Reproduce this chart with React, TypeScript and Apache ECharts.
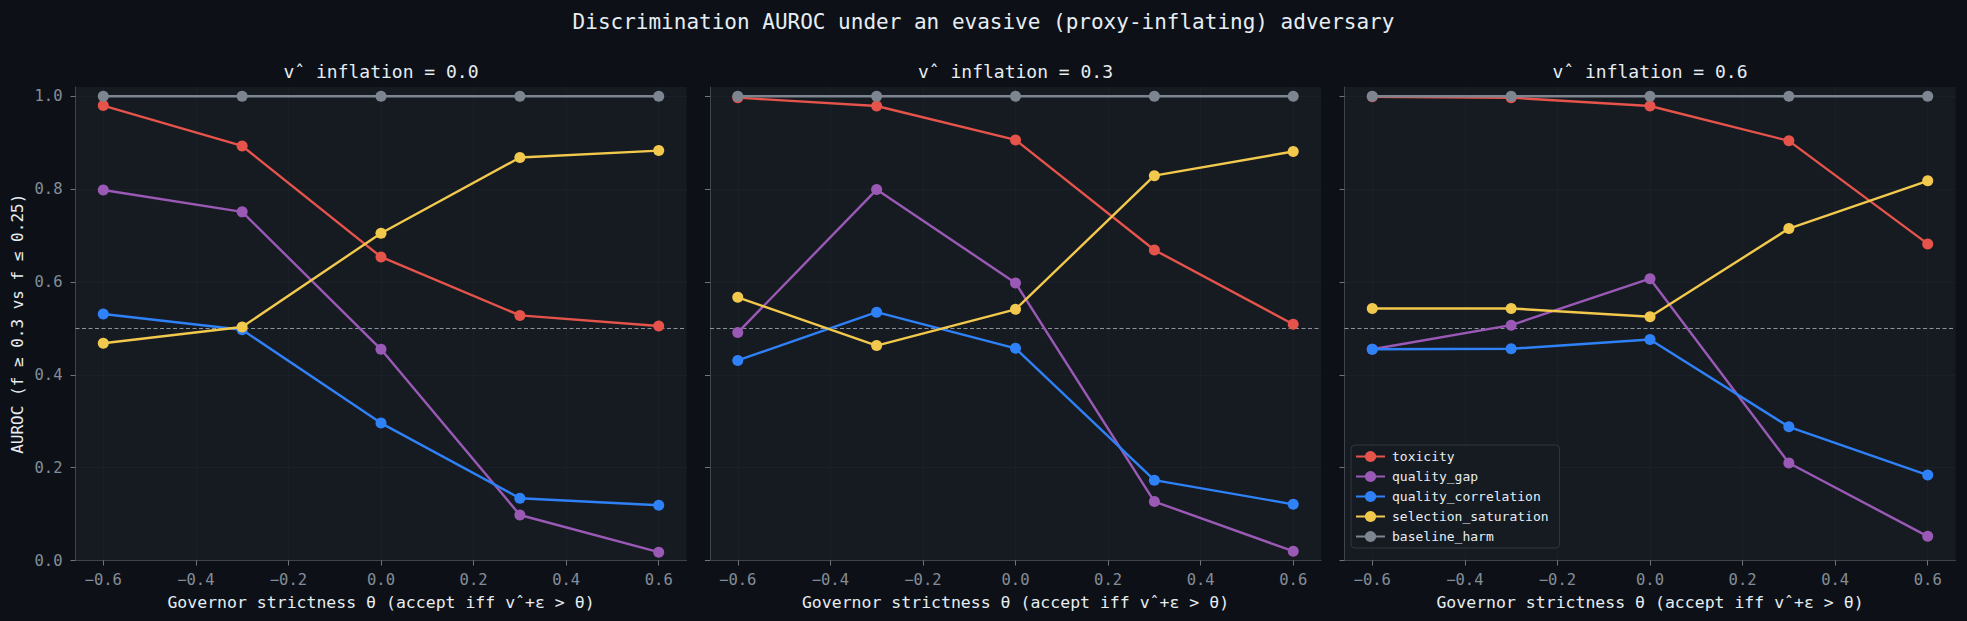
import React, { useEffect, useRef } from "react";
import * as echarts from "echarts";

const thetas = [-0.6, -0.3, 0.0, 0.3, 0.6];
const panelTitles = ["vˆ inflation = 0.0", "vˆ inflation = 0.3", "vˆ inflation = 0.6"];
const seriesNames = ["toxicity", "quality_gap", "quality_correlation", "selection_saturation", "baseline_harm"];

// one row per panel (inflation 0.0, 0.3, 0.6), one value per theta
const toxicity = [
  [0.98, 0.893, 0.654, 0.528, 0.505],
  [0.997, 0.979, 0.906, 0.669, 0.509],
  [0.999, 0.997, 0.979, 0.904, 0.682],
];
const qualityGap = [
  [0.798, 0.751, 0.455, 0.098, 0.018],
  [0.491, 0.799, 0.598, 0.127, 0.02],
  [0.455, 0.507, 0.607, 0.21, 0.052],
];
const qualityCorrelation = [
  [0.531, 0.497, 0.296, 0.134, 0.119],
  [0.431, 0.535, 0.457, 0.173, 0.121],
  [0.455, 0.456, 0.476, 0.288, 0.184],
];
const selectionSaturation = [
  [0.468, 0.503, 0.705, 0.868, 0.883],
  [0.567, 0.463, 0.541, 0.829, 0.881],
  [0.543, 0.543, 0.525, 0.715, 0.818],
];
const baselineHarm = [
  [1.0, 1.0, 1.0, 1.0, 1.0],
  [1.0, 1.0, 1.0, 1.0, 1.0],
  [1.0, 1.0, 1.0, 1.0, 1.0],
];
const chanceLevel = 0.5;

const xTicks = [-0.6, -0.4, -0.2, 0.0, 0.2, 0.4, 0.6];
const yTicks = [0.0, 0.2, 0.4, 0.6, 0.8, 1.0];

const suptitle = "Discrimination AUROC under an evasive (proxy-inflating) adversary";
const yLabel = "AUROC (f ≥ 0.3 vs f ≤ 0.25)";
const xLabel = "Governor strictness θ (accept iff vˆ+ε > θ)";

const allSeries = [toxicity, qualityGap, qualityCorrelation, selectionSaturation, baselineHarm];
const colors = ["#e5534b", "#9b59b6", "#2f81f7", "#f2c94c", "#7d8590"];

const FONT = "'DejaVu Sans Mono', monospace";
const W = 1967;
const H = 621;

const fmt = (v: number) => {
  const r = Math.round(v * 10) / 10;
  if (Math.abs(r) < 1e-9) return "0.0";
  return r < 0 ? "\u2212" + Math.abs(r).toFixed(1) : r.toFixed(1);
};

export default function App() {
  const ref = useRef<HTMLDivElement>(null);
  useEffect(() => {
    if (!ref.current) return;
    const chart = echarts.init(ref.current, null, { renderer: "svg", width: W, height: H });

    const lefts = [75.5, 710, 1344.5];
    const gw = 611;
    const top = 87;
    const gh = 473.5;

    const grids = lefts.map((l) => ({
      left: l,
      top,
      width: gw,
      height: gh,
      show: true,
      backgroundColor: "#161b22",
      borderWidth: 0,
      containLabel: false,
    }));

    const xAxes = lefts.map((_, i) => ({
      type: "value",
      gridIndex: i,
      min: -0.66,
      max: 0.66,
      name: xLabel,
      nameLocation: "middle",
      nameGap: 33,
      nameTextStyle: { color: "#e6edf3", fontSize: 16.5, fontFamily: FONT },
      axisLine: { show: true, onZero: false, lineStyle: { color: "#3d444d", width: 1 } },
      axisTick: { show: true, length: 5, customValues: xTicks, lineStyle: { color: "#6e7681" } },
      axisLabel: {
        show: true,
        customValues: xTicks,
        formatter: fmt,
        color: "#848d97",
        fontSize: 15.5,
        fontFamily: FONT,
        margin: 11,
      },
      splitLine: { show: true, lineStyle: { color: "#1b2028", width: 1 } },
    }));

    const yAxes = lefts.map((_, i) => ({
      type: "value",
      gridIndex: i,
      min: 0,
      max: 1.02,
      name: i === 0 ? yLabel : "",
      nameLocation: "middle",
      nameGap: 50,
      nameTextStyle: { color: "#e6edf3", fontSize: 16, fontFamily: FONT },
      axisLine: { show: true, onZero: false, lineStyle: { color: "#3d444d", width: 1 } },
      axisTick: { show: true, length: 5, customValues: yTicks, lineStyle: { color: "#6e7681" } },
      axisLabel: {
        show: i === 0,
        customValues: yTicks,
        formatter: fmt,
        color: "#848d97",
        fontSize: 15.5,
        fontFamily: FONT,
        margin: 13,
      },
      splitLine: { show: true, lineStyle: { color: "#1b2028", width: 1 } },
    }));

    const series: any[] = [];
    for (let p = 0; p < 3; p++) {
      allSeries.forEach((arr, si) => {
        const s: any = {
          type: "line",
          name: seriesNames[si],
          xAxisIndex: p,
          yAxisIndex: p,
          data: thetas.map((t, k) => [t, arr[p][k]]),
          symbol: "circle",
          symbolSize: 11,
          showSymbol: true,
          color: colors[si],
          lineStyle: { color: colors[si], width: 2.4 },
          itemStyle: { color: colors[si] },
          z: 3 + si,
        };
        if (si === 0) {
          s.markLine = {
            silent: true,
            symbol: "none",
            label: { show: false },
            lineStyle: { color: "#8b949e", type: [4, 2.5], width: 1 },
            data: [{ yAxis: chanceLevel }],
            z: 1,
          };
        }
        series.push(s);
      });
    }

    const graphic: any[] = [
      {
        type: "text",
        x: W / 2,
        y: 21.5,
        style: {
          text: suptitle,
          fill: "#e6edf3",
          font: `21px ${FONT}`,
          align: "center",
          verticalAlign: "middle",
        },
      },
      ...lefts.map((l, i) => ({
        type: "text",
        x: l + gw / 2,
        y: 71.5,
        style: {
          text: panelTitles[i],
          fill: "#e6edf3",
          font: `18px ${FONT}`,
          align: "center",
          verticalAlign: "middle",
        },
      })),
    ];

    chart.setOption({
      animation: false,
      backgroundColor: "#0d1117",
      grid: grids,
      xAxis: xAxes,
      yAxis: yAxes,
      series,
      graphic,
      legend: {
        data: seriesNames,
        orient: "vertical",
        left: 1351,
        top: 445,
        itemWidth: 29,
        itemHeight: 14,
        itemGap: 7,
        padding: [5, 11, 5, 4],
        backgroundColor: "#161b22",
        borderColor: "#30363d",
        borderWidth: 1,
        borderRadius: 4,
        textStyle: { color: "#e6edf3", fontSize: 13, fontFamily: FONT, padding: [0, 0, 0, 2] },
      },
    });
    return () => chart.dispose();
  }, []);
  return (
    <div
      ref={ref}
      style={{ position: "absolute", left: 0, top: 0, width: W, height: H, background: "#0d1117" }}
    />
  );
}
